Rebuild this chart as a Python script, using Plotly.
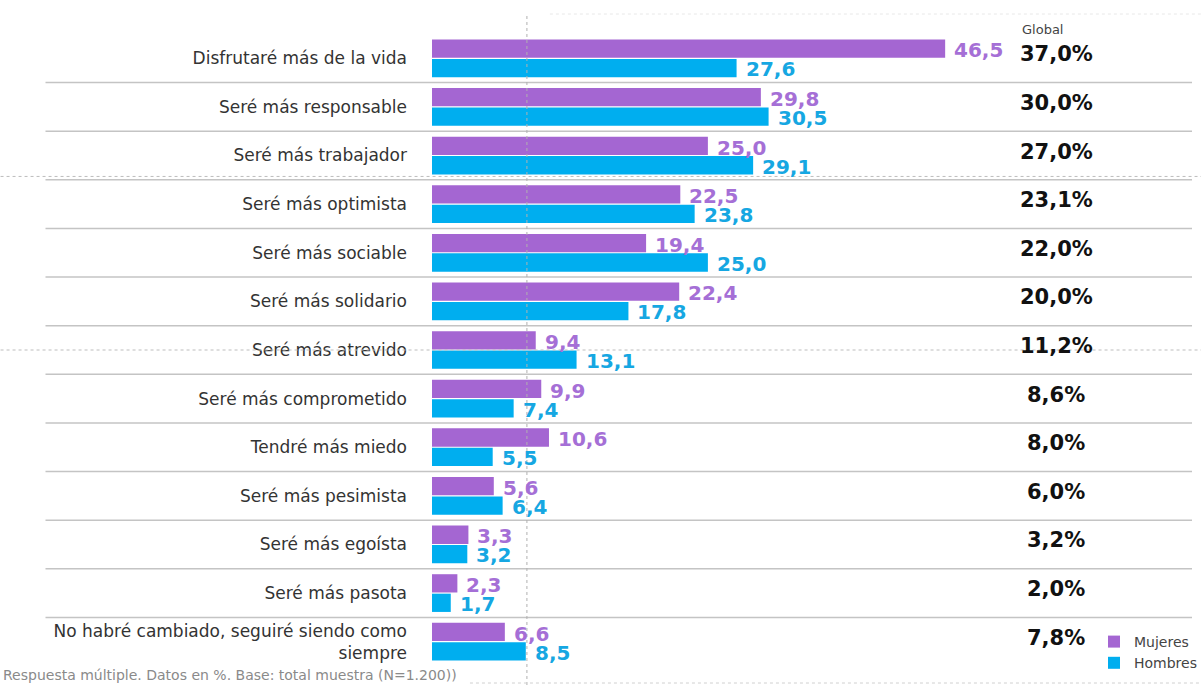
import plotly.graph_objects as go

categories = [
    "Disfrutaré más de la vida",
    "Seré más responsable",
    "Seré más trabajador",
    "Seré más optimista",
    "Seré más sociable",
    "Seré más solidario",
    "Seré más atrevido",
    "Seré más comprometido",
    "Tendré más miedo",
    "Seré más pesimista",
    "Seré más egoísta",
    "Seré más pasota",
    "No habré cambiado, seguiré siendo como<br>siempre",
]
mujeres = [46.5, 29.8, 25.0, 22.5, 19.4, 22.4, 9.4, 9.9, 10.6, 5.6, 3.3, 2.3, 6.6]
hombres = [27.6, 30.5, 29.1, 23.8, 25.0, 17.8, 13.1, 7.4, 5.5, 6.4, 3.2, 1.7, 8.5]
global_vals = ["37,0%", "30,0%", "27,0%", "23,1%", "22,0%", "20,0%", "11,2%",
               "8,6%", "8,0%", "6,0%", "3,2%", "2,0%", "7,8%"]

PURPLE = "#A466D2"
BLUE = "#00AEEF"
PURPLE_TXT = "#A56FD6"
BLUE_TXT = "#16A7E2"
FONT = "DejaVu Sans"

W, H = 1202, 685
ML, MR, MT, MB = 432, 0, 34, 19
plot_w = W - ML - MR
plot_h = H - MT - MB
px_per_unit = 11.05
xmax = plot_w / px_per_unit


def fmt(v):
    return f"{v:.1f}".replace(".", ",")


def py(pix):
    """pixel row from top -> paper y"""
    return (H - MB - pix) / plot_h


def pxp(pix):
    """pixel column from left -> paper x"""
    return (pix - ML) / plot_w


fig = go.Figure()
fig.add_trace(go.Bar(y=categories, x=mujeres, orientation="h", name="Mujeres",
                     marker=dict(color=PURPLE, line=dict(width=0))))
fig.add_trace(go.Bar(y=categories, x=hombres, orientation="h", name="Hombres",
                     marker=dict(color=BLUE, line=dict(width=0))))

annotations = []
for i, c in enumerate(categories):
    annotations.append(dict(x=mujeres[i], y=c, xref="x", yref="y", text=fmt(mujeres[i]),
                            showarrow=False, xanchor="left", yanchor="middle",
                            xshift=7, yshift=8,
                            font=dict(family=FONT, size=20, color=PURPLE_TXT, weight="bold")))
    annotations.append(dict(x=hombres[i], y=c, xref="x", yref="y", text=fmt(hombres[i]),
                            showarrow=False, xanchor="left", yanchor="middle",
                            xshift=7, yshift=-11,
                            font=dict(family=FONT, size=20, color=BLUE_TXT, weight="bold")))
    annotations.append(dict(x=pxp(1057), y=c, xref="paper", yref="y",
                            text=global_vals[i], showarrow=False, xanchor="center",
                            yanchor="middle", yshift=4,
                            font=dict(family=FONT, size=21, color="#111111", weight="bold")))

annotations.append(dict(x=pxp(1043), y=py(30), xref="paper", yref="paper",
                        text="Global", showarrow=False, xanchor="center", yanchor="middle",
                        font=dict(family=FONT, size=13, color="#444444")))
annotations.append(dict(x=pxp(0), y=py(675), xref="paper", yref="paper",
                        text="Respuesta múltiple. Datos en %. Base: total muestra (N=1.200))",
                        showarrow=False, xanchor="left", yanchor="middle",
                        font=dict(family=FONT, size=14, color="#8a8a8a")))

shapes = []
# row separators
for i in range(len(categories) - 1):
    shapes.append(dict(type="line", xref="paper", yref="y",
                       x0=pxp(45), x1=pxp(1193), y0=i + 0.5, y1=i + 0.5,
                       line=dict(color="#c4c4c4", width=1.5)))
# dotted lines
for yv in [2.43, 6.0]:
    shapes.append(dict(type="line", xref="paper", yref="y",
                       x0=pxp(0), x1=1.0, y0=yv, y1=yv,
                       line=dict(color="#bdbdbd", width=1, dash="dot")))
shapes.append(dict(type="line", xref="x", yref="paper", x0=8.6, x1=8.6,
                   y0=py(685), y1=py(14),
                   line=dict(color="#b0b0b0", width=1, dash="dot")))
shapes.append(dict(type="line", xref="paper", yref="paper",
                   x0=pxp(550), x1=1.0, y0=py(14), y1=py(14),
                   line=dict(color="#e8e8e8", width=1, dash="dot")))
shapes.append(dict(type="line", xref="paper", yref="paper",
                   x0=pxp(470), x1=1.0, y0=py(683), y1=py(683),
                   line=dict(color="#d0d0d0", width=1, dash="dot")))

fig.update_layout(
    width=W, height=H,
    margin=dict(l=ML, r=MR, t=MT, b=MB, pad=0),
    paper_bgcolor="white", plot_bgcolor="white",
    barmode="group", bargap=0.2, bargroupgap=0.06,
    showlegend=True,
    legend=dict(x=pxp(1095), y=py(626), xanchor="left", yanchor="top",
                bgcolor="rgba(0,0,0,0)",
                font=dict(family=FONT, size=14, color="#444444"),
                tracegroupgap=0, itemclick=False),
    annotations=annotations,
    shapes=shapes,
    font=dict(family=FONT),
)
fig.update_xaxes(range=[0, xmax], visible=False, showgrid=False, zeroline=False, fixedrange=True)
fig.update_yaxes(range=[len(categories) - 0.5, -0.5], showgrid=False, zeroline=False,
                 showline=False, ticks="", ticklabelstandoff=24, fixedrange=True,
                 tickfont=dict(family=FONT, size=17, color="#333333"))

fig.write_html("out.html", config={"displayModeBar": False},
               post_script="document.body.style.margin='0';")
